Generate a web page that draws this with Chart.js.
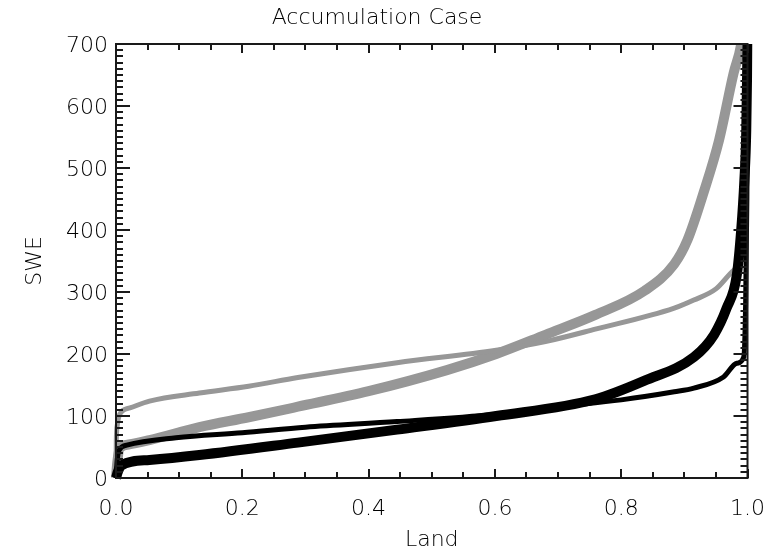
<!DOCTYPE html>
<html>
<head>
<meta charset="utf-8">
<script src="https://cdn.jsdelivr.net/npm/chart.js@4/dist/chart.umd.min.js"></script>
<style>
  html, body { margin: 0; padding: 0; background: #ffffff; }
  #wrap { width: 783px; height: 552px; }
</style>
</head>
<body>
<div id="wrap"><canvas id="c" width="783" height="552"></canvas></div>
<script>
// Cumulative SWE curves: fraction of land (x) vs snow water equivalent (y)
const grayThickX = [0, 0.002, 0.006, 0.02, 0.053, 0.132, 0.21, 0.288, 0.4, 0.524, 0.602, 0.68, 0.759, 0.837, 0.884, 0.905, 0.931, 0.955, 0.978, 0.99, 0.997];
const grayThickY = [0, 25, 48, 54, 61, 82, 98, 115, 140, 174, 200, 231, 263, 302, 345, 384, 462, 545, 653, 700, 760];

const grayThinX = [0, 0.0005, 0.002, 0.006, 0.022, 0.053, 0.132, 0.21, 0.288, 0.445, 0.602, 0.68, 0.759, 0.884, 0.915, 0.95, 0.978, 0.994, 0.998, 1.0];
const grayThinY = [0, 60, 85, 103, 113, 124, 137, 148, 162, 186, 206, 220, 240, 274, 287, 305, 335, 368, 450, 700];

const blackThickX = [0, 0.003, 0.008, 0.053, 0.132, 0.288, 0.445, 0.602, 0.759, 0.837, 0.915, 0.947, 0.967, 0.983, 0.99, 0.995, 0.998, 1.0];
const blackThickY = [0, 10, 20, 29, 37, 57, 78, 100, 127, 157, 195, 231, 274, 327, 400, 480, 560, 700];

const blackThinX = [0, 0.002, 0.005, 0.017, 0.095, 0.2, 0.3, 0.445, 0.602, 0.7, 0.8, 0.884, 0.915, 0.962, 0.983, 0.994, 0.997, 0.999, 1.0];
const blackThinY = [0, 30, 45, 53, 65, 73, 82, 91, 103, 115, 126, 139, 145, 163, 185, 195, 280, 450, 640];

const xTicks = [0, 0.2, 0.4, 0.6, 0.8, 1.0];
const yTicks = [0, 100, 200, 300, 400, 500, 600, 700];

const GRAY = '#979797';
const INK = '#000000';
const FONT = "'DejaVu Sans', sans-serif";

function pts(xs, ys) { return xs.map((x, i) => ({ x: x, y: ys[i] })); }

function series(label, xs, ys, color, width) {
  return {
    label: label,
    data: pts(xs, ys),
    borderColor: color,
    backgroundColor: color,
    borderWidth: width,
    pointRadius: 0,
    fill: false,
    showLine: true,
    cubicInterpolationMode: 'monotone',
    borderCapStyle: 'butt',
    borderJoinStyle: 'round',
    clip: { left: 5, right: 5, top: 0, bottom: 5 }
  };
}

// IDL-style box frame with inward major and minor ticks on all four sides
const boxAxes = {
  id: 'boxAxes',
  afterDatasetsDraw(chart) {
    const { ctx, chartArea: a, scales: { x, y } } = chart;
    ctx.save();
    ctx.strokeStyle = '#1a1a1a';
    ctx.lineWidth = 2;
    ctx.lineCap = 'butt';
    ctx.beginPath();
    // x ticks every 0.05, major every 0.2
    for (let i = 0; i <= 20; i++) {
      const v = i * 0.05;
      const px = Math.round(x.getPixelForValue(v));
      const len = (i % 4 === 0) ? 9 : 6;
      ctx.moveTo(px, a.bottom); ctx.lineTo(px, a.bottom - len);
      ctx.moveTo(px, a.top); ctx.lineTo(px, a.top + len);
    }
    // y ticks every 10, major every 100
    for (let i = 0; i <= 70; i++) {
      const v = i * 10;
      const py = Math.round(y.getPixelForValue(v));
      const len = (i % 10 === 0) ? 14 : 7;
      ctx.moveTo(a.left, py); ctx.lineTo(a.left + len, py);
      ctx.moveTo(a.right, py); ctx.lineTo(a.right - len, py);
    }
    ctx.stroke();
    ctx.strokeRect(a.left, a.top, a.right - a.left, a.bottom - a.top);
    ctx.restore();
  }
};

new Chart(document.getElementById('c'), {
  type: 'scatter',
  data: {
    datasets: [
      series('Black thin', blackThinX, blackThinY, '#000000', 5),
      series('Black thick', blackThickX, blackThickY, '#000000', 10),
      series('Gray thin', grayThinX, grayThinY, GRAY, 5),
      series('Gray thick', grayThickX, grayThickY, GRAY, 10)
    ]
  },
  options: {
    responsive: false,
    animation: false,
    layout: { padding: { left: 0, right: 29, top: 0, bottom: 0 } },
    plugins: {
      legend: { display: false },
      tooltip: { enabled: false },
      title: {
        display: true,
        text: 'Accumulation Case',
        color: INK,
        font: { family: FONT, size: 22, weight: '200', lineHeight: 1.2 },
        padding: { top: 5, bottom: 12.6 }
      }
    },
    scales: {
      x: {
        type: 'linear',
        min: 0, max: 1,
        afterFit(s) { s.height = 74; },
        afterBuildTicks(s) { s.ticks = xTicks.map(v => ({ value: v })); },
        grid: { display: false, drawTicks: false },
        border: { display: false },
        ticks: {
          color: INK,
          padding: 18,
          maxRotation: 0,
          font: { family: FONT, size: 22, weight: '200' },
          callback: v => Number(v).toFixed(1)
        },
        title: {
          display: true, text: 'Land', color: INK,
          font: { family: FONT, size: 22, weight: '200', lineHeight: 1.1 },
          padding: { top: 0, bottom: 0 }
        }
      },
      y: {
        type: 'linear',
        min: 0, max: 700,
        afterFit(s) { s.width = 116; },
        afterBuildTicks(s) { s.ticks = yTicks.map(v => ({ value: v })); },
        grid: { display: false, drawTicks: false },
        border: { display: false },
        ticks: {
          color: INK,
          padding: 8,
          labelOffset: 2,
          font: { family: FONT, size: 22, weight: '200' }
        },
        title: {
          display: true, text: 'SWE', color: INK,
          font: { family: FONT, size: 22, weight: '200', lineHeight: 1.2 },
          padding: { top: 22, bottom: 0 }
        }
      }
    }
  },
  plugins: [boxAxes]
});
</script>
</body>
</html>
